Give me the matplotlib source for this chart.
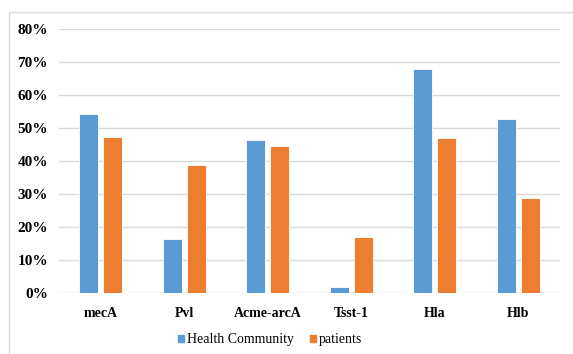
import matplotlib.pyplot as plt
import numpy as np
from matplotlib.patches import Patch, Rectangle

# Prevalence of each gene, in percent
genes = ['mecA', 'Pvl', 'Acme-arcA', 'Tsst-1', 'Hla', 'Hlb']
community = [54.3, 16.4, 46.3, 1.8, 67.9, 52.8]
patients = [47.2, 38.9, 44.6, 17.0, 47.1, 28.9]
yticks = [0, 10, 20, 30, 40, 50, 60, 70, 80]

blue = '#5B9BD5'
orange = '#ED7D31'
grid_col = '#D9D9D9'
serif = ['Liberation Serif', 'DejaVu Serif']

fig = plt.figure(figsize=(5.73, 3.54), dpi=100)

# light frame around the chart area
frame = Rectangle((9 / 573, -0.1), 1.2, 1 - 12 / 354 + 0.1, transform=fig.transFigure,
                  fill=False, edgecolor=grid_col, linewidth=1.0, zorder=0)
fig.add_artist(frame)

ax = fig.add_axes([59 / 573, 60.7 / 354, 501 / 573, 264.3 / 354])

x = np.arange(len(genes))
w = 0.228
off = 0.144
ax.bar(x - off, community, w, color=blue, edgecolor='white', linewidth=0.6, zorder=3,
       label='Health Community')
ax.bar(x + off, patients, w, color=orange, edgecolor='white', linewidth=0.6, zorder=3,
       label='patients')

ax.set_xlim(-0.5, len(genes) - 0.5)
ax.set_ylim(0, 80)
ax.set_yticks(yticks)
ax.set_yticklabels([f'{v}%' for v in yticks], fontfamily=serif, fontweight='bold', fontsize=11)
ax.set_xticks(x)
ax.set_xticklabels(genes, fontfamily=serif, fontweight='bold', fontsize=10)
ax.tick_params(axis='both', length=0)
ax.tick_params(axis='y', pad=8)
ax.tick_params(axis='x', pad=10)

for s in ax.spines.values():
    s.set_visible(False)
ax.yaxis.grid(True, color=grid_col, linewidth=1.0, zorder=0)
ax.set_axisbelow(True)

handles = [Patch(color=blue), Patch(color=orange)]
fig.legend(handles, ['Health Community', 'patients'], loc='center',
           bbox_to_anchor=(270 / 573, 14 / 354), ncol=2, frameon=False,
           prop={'family': serif, 'size': 10}, handlelength=0.45, handleheight=0.45,
           handletextpad=0.25, columnspacing=1.1)

fig.savefig('out.png', dpi=100)
